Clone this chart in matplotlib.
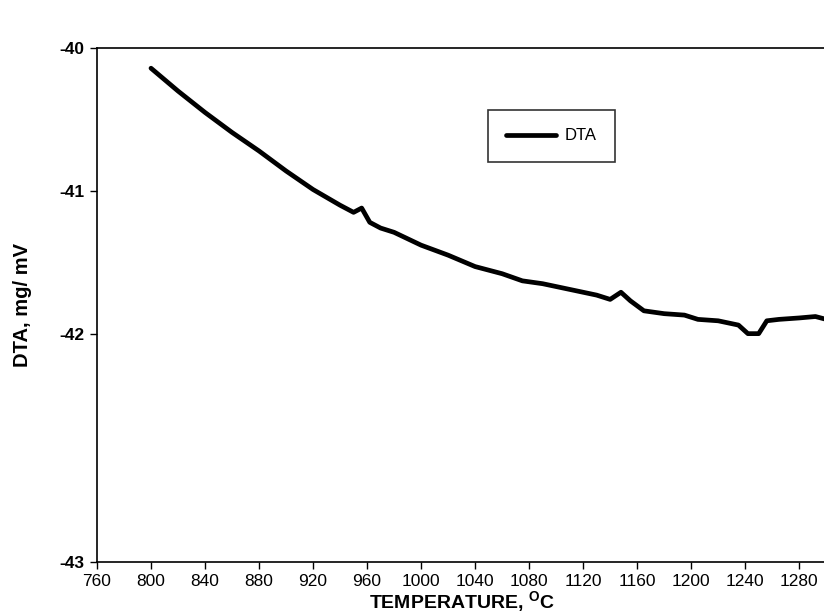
import numpy as np
import matplotlib
matplotlib.use("Agg")
import matplotlib.pyplot as plt

plt.rcParams['font.family'] = ['Liberation Sans', 'DejaVu Sans']
plt.rcParams['mathtext.fontset'] = 'custom'
plt.rcParams['mathtext.rm'] = 'Liberation Sans:bold'
plt.rcParams['mathtext.bf'] = 'Liberation Sans:bold'

# 温度 (°C) 与 DTA 读数
temp = [800, 810, 820, 840, 860, 880, 900, 920, 940, 950, 956, 962, 970, 980,
        1000, 1020, 1040, 1060, 1075, 1090, 1100, 1120, 1130, 1140, 1148, 1155,
        1165, 1180, 1195, 1205, 1220, 1235, 1242, 1250, 1256, 1265, 1280, 1292, 1300]
dta = [-40.14, -40.22, -40.30, -40.45, -40.59, -40.72, -40.86, -40.99, -41.10, -41.15,
       -41.12, -41.22, -41.26, -41.29, -41.38, -41.45, -41.53, -41.58, -41.63, -41.65,
       -41.67, -41.71, -41.73, -41.76, -41.71, -41.77, -41.84, -41.86, -41.87, -41.90,
       -41.91, -41.94, -42.00, -42.00, -41.91, -41.90, -41.89, -41.88, -41.90]
xticks = list(range(760, 1281, 40))
yticks = [-43, -42, -41, -40]

# 原图纵轴 -42 以下一段被拉长
k = 1.6
def fwd(y):
    y = np.asarray(y, dtype=float)
    return np.where(y >= -42, y, -42 + (y + 42) * k)
def inv(z):
    z = np.asarray(z, dtype=float)
    return np.where(z >= -42, z, -42 + (z + 42) / k)

fig = plt.figure(figsize=(8.24, 6.16), dpi=100)
ax = fig.add_axes([0.1177, 0.0877, 0.885, 0.834])
ax.set_yscale('function', functions=(fwd, inv))
ax.plot(temp, dta, color='black', linewidth=3.4, solid_capstyle='round', label='DTA')
ax.set_xlim(760, 1300)
ax.set_ylim(-43, -40)
ax.set_xticks(xticks)
ax.set_yticks(yticks)
ax.set_yticklabels([str(v) for v in yticks], fontweight='bold', fontsize=12.5)
ax.set_xticklabels([str(v) for v in xticks], fontsize=12.5)
ax.tick_params(direction='out', length=5, width=1, color='black', pad=4)
ax.spines['right'].set_visible(False)
for s in ['left', 'top', 'bottom']:
    ax.spines[s].set_linewidth(1.2)
ax.set_xlabel(r'TEMPERATURE, $^{\mathbf{O}}$C', fontsize=14, fontweight='bold', labelpad=0)
ax.set_ylabel('DTA, mg/ mV', fontsize=14.5, fontweight='bold', labelpad=20)
leg = ax.legend(loc='upper left', bbox_to_anchor=(488 / 824, 1 - 110 / 616),
                bbox_transform=fig.transFigure, fancybox=False, frameon=True,
                edgecolor='black', fontsize=12, handlelength=3.0, borderpad=1.1,
                handletextpad=0.5, borderaxespad=0)
leg.get_frame().set_linewidth(1.2)
plt.savefig('out.png', dpi=100)
